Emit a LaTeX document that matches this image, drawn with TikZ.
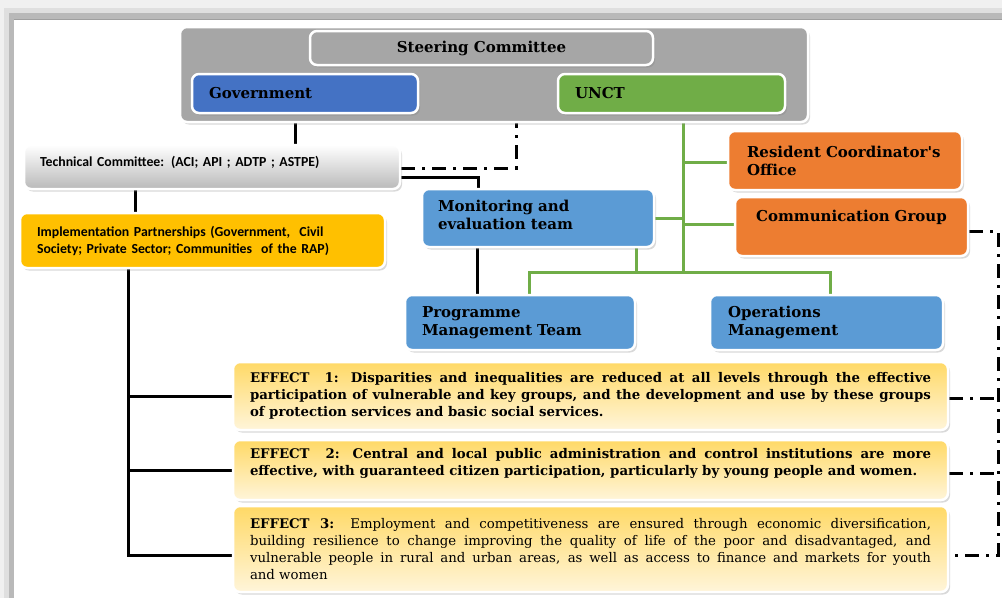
\documentclass[tikz,border=0pt]{standalone}
\usepackage{fontspec}
\setmainfont{DejaVu Serif}
\newfontfamily\calfont{Carlito}
\usetikzlibrary{shadows}
\pgfdeclarelayer{bg}
\pgfsetlayers{bg,main}
\definecolor{sggray}{HTML}{A6A6A6}
\definecolor{govblue}{HTML}{4472C4}
\definecolor{unctgreen}{HTML}{70AD47}
\definecolor{teamblue}{HTML}{5B9BD5}
\definecolor{rcorange}{HTML}{ED7D31}
\definecolor{ipgold}{HTML}{FFC000}
\definecolor{effgold}{HTML}{FFD966}
\definecolor{effpale}{HTML}{FFF5DA}
\newcommand{\dropline}[1]{\rule[-#1]{0pt}{0pt}}
\tikzset{
  box/.style={rectangle, rounded corners=7pt, draw=white, line width=2.5pt,
    drop shadow={shadow xshift=2pt, shadow yshift=-2.5pt, opacity=0.3},
    inner xsep=17pt, inner ysep=2pt, align=left,
    font=\fontsize{15}{18}\selectfont\bfseries},
  smallbox/.style={box, font=\calfont\bfseries\fontsize{13.8}{17}\selectfont},
  effect/.style={box, top color=effgold, bottom color=effpale, align=justify,
    text width=681pt, minimum width=715pt,
    font=\fontsize{13.3}{17}\selectfont\bfseries},
  link/.style={line width=3pt},
  glink/.style={line width=3pt, draw=unctgreen},
  dashlink/.style={line width=3pt, dash pattern=on 14pt off 7pt on 3pt off 7pt},
}
\begin{document}
\begin{tikzpicture}[x=1pt, y=-1pt]
        \useasboundingbox (0,0) rectangle (1002,598);
        \node (sg) [box, fill=sggray, minimum width=628pt, minimum height=95pt] at (494,74.5) {};
        \node (sc) [box, fill=sggray, minimum width=343pt, minimum height=34pt, align=center] at (481.5,48) {Steering Committee};
        \node (gov) [box, fill=govblue, text width=192pt, minimum height=39pt] at (305,93.5) {Government};
        \node (unct) [box, fill=unctgreen, text width=193pt, minimum height=39pt] at (671.5,93.5) {UNCT};

        \node (tc) [smallbox, top color=white, bottom color=gray!55, text width=344pt, minimum height=44pt, inner xsep=16pt] at (212,167) {Technical Committee: (ACI; API ; ADTP ; ASTPE)\dropline{12pt}};
        \node (ip) [smallbox, fill=ipgold, text width=331pt, minimum height=55pt] at (202.5,240.5) {Implementation Partnerships (Government,\ \ Civil\\Society; Private Sector; Communities\ \ of the RAP)};

        \node (me) [box, fill=teamblue, text width=200pt, minimum height=58pt, inner xsep=16pt] at (538,218) {Monitoring and\\evaluation team\dropline{6pt}};
        \node (rco) [box, fill=rcorange, text width=196pt, minimum height=59pt, inner xsep=19pt] at (845,160.5) {Resident Coordinator\textquotesingle s\\Office};
        \node (cg) [box, fill=rcorange, text width=199pt, minimum height=59pt, align=center] at (851.5,226.5) {Communication Group\dropline{22pt}};
        \node (pmt) [box, fill=teamblue, text width=196pt, minimum height=55pt] at (520,322.5) {Programme\\Management Team};
        \node (om) [box, fill=teamblue, text width=197pt, minimum height=55pt, inner xsep=18pt] at (826.5,322.5) {Operations\\Management};

        \node (e1) [effect, minimum height=68pt] at (590.5,396) {EFFECT\ \ 1: Disparities and inequalities are reduced at all levels through the effective\linebreak participation of vulnerable and key groups, and the development and use by these groups\linebreak of protection services and basic social services.};
        \node (e2) [effect, minimum height=60pt] at (590.5,470) {EFFECT\ \ 2: Central and local public administration and control institutions are more\linebreak effective, with guaranteed citizen participation, particularly by young people and women.\dropline{16pt}};
        \node (e3) [effect, minimum height=86pt, font=\fontsize{13.3}{17}\selectfont] at (590.5,549) {\textbf{EFFECT 3:} Employment and competitiveness are ensured through economic diversification,\linebreak building resilience to change improving the quality of life of the poor and disadvantaged, and\linebreak vulnerable people in rural and urban areas, as well as access to finance and markets for youth\linebreak and women};

        \coordinate (gj) at (683,272);
        \coordinate (rj) at (998,555);

        \begin{pgfonlayer}{bg}
                % window frame
                \fill[gray!12] (0,0) rectangle (1002,20);
                \fill[gray!12] (0,0) rectangle (14,598);
                \fill[gray!25] (4,8) rectangle (1002,20);
                \fill[gray!25] (4,8) rectangle (14,598);
                \fill[gray!55] (9,13) rectangle (1002,20);
                \fill[gray!55] (9,13) rectangle (14,598);
                \draw[gray!75, line width=1pt] (14,19.5) -- (1002,19.5);

                \draw[link] ([xshift=-10pt]gov.south) -- ([xshift=-10pt]gov.south |- tc.north);
                \draw[link] ([xshift=-77pt]tc.south) -- ([xshift=-77pt]tc.south |- ip.north);
                \draw[link] ([xshift=-74.5pt]ip.south) |- ([yshift=-6pt]e3.west);
                \draw[link] ([xshift=-74.5pt]ip.south |- e1.west) -- (e1.west);
                \draw[link] ([xshift=-74.5pt]ip.south |- e2.west) -- (e2.west);
                \draw[link] ([yshift=-10pt]tc.east) -| ([xshift=-60pt]me.north);
                \draw[link] ([xshift=-61pt]me.south) -- ([xshift=-61pt]me.south |- pmt.north);
                \draw[dashlink] ([yshift=-1pt]tc.east) -| ([xshift=22pt]sg.south);

                \draw[glink] ([xshift=11.5pt]unct.south) -- (gj);
                \draw[glink] ([yshift=-1.5pt]rco.west) -- ([yshift=-1.5pt]rco.west -| gj);
                \draw[glink] ([yshift=2.5pt]cg.west) -- ([yshift=2.5pt]cg.west -| gj);
                \draw[glink] (me.east) -- (me.east -| gj);
                \draw[glink] ([xshift=98pt]me.south) -- ([xshift=98pt]me.south |- gj);
                \draw[glink] ([xshift=9pt]pmt.north) |- (gj) -| ([xshift=3.5pt]om.north);

                \draw[dashlink] ([yshift=-4.5pt]cg.east) -| (rj) -- ([yshift=-6pt]e3.east);
                \draw[dashlink] ([yshift=-2pt]e1.east) -- ([yshift=-2pt]e1.east -| rj);
                \draw[dashlink] ([yshift=-3pt]e2.east) -- ([yshift=-3pt]e2.east -| rj);
        \end{pgfonlayer}
\end{tikzpicture}
\end{document}
